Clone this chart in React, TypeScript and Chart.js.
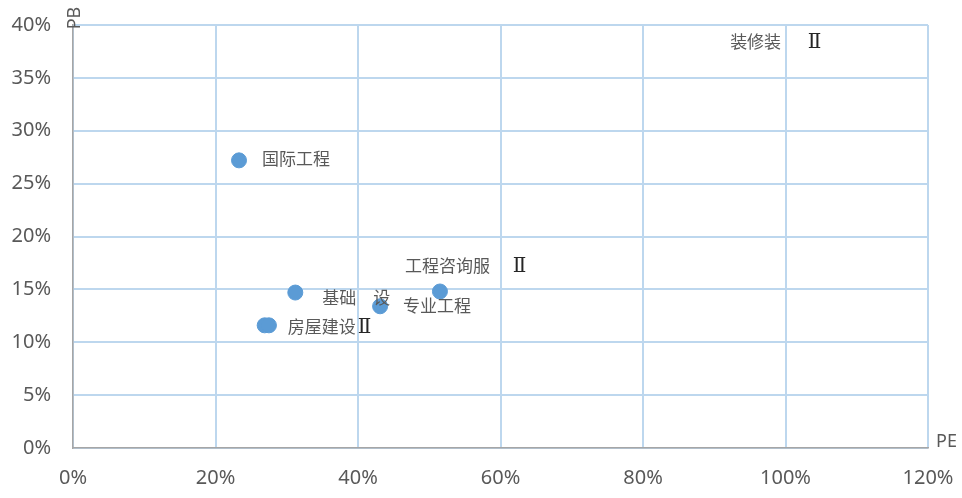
import React, { useEffect, useRef } from "react";
import { Chart, registerables } from "chart.js";
Chart.register(...registerables);

// PE (x) and PB (y) per industry point
const names = ["国际工程", "基础建设Ⅱ", "工程咨询服务Ⅱ", "专业工程", "房屋建设Ⅱ", "房屋建设Ⅱ", "装修装饰Ⅱ"];
const peValues = [0.233, 0.312, 0.515, 0.431, 0.269, 0.275, 0.89];
const pbValues = [0.272, 0.147, 0.148, 0.134, 0.116, 0.116, 0.46];
// visible label text as rendered in the reference (some glyphs hidden)
const labelText = ["国际工程", "基础　设", "工程咨询服　 Ⅱ", "专业工程", "房屋建设Ⅱ", "", "装修装　  Ⅱ"];
const xTicks = [0, 0.2, 0.4, 0.6, 0.8, 1.0, 1.2];
const yTicks = [0, 0.05, 0.1, 0.15, 0.2, 0.25, 0.3, 0.35, 0.4];

// label offsets in px (style)
const labelDx = [23, 27, -35, 23, 23, 0, 23];
const labelDy = [-2, 5, -26, -1, 1, 0, 0];

const GRID = "#BDD7EE";
const TEXT = "#595959";

const labelPlugin = {
  id: "labels",
  afterDatasetsDraw(chart: any) {
    const { ctx, chartArea } = chart;
    const meta = chart.getDatasetMeta(0);
    ctx.save();
    ctx.textBaseline = "middle";
    ctx.textAlign = "left";
    meta.data.forEach((pt: any, i: number) => {
      const txt = labelText[i];
      if (!txt) return;
      let x = pt.x + labelDx[i];
      let y = pt.y + labelDy[i];
      if (y < chartArea.top + 17) y = chartArea.top + 17;
      if (x > chartArea.right - 120) x = Math.min(x, chartArea.right - 195);
      const parts = txt.split("Ⅱ");
      ctx.font = '17px "Noto Sans CJK SC", "Noto Sans", sans-serif';
      ctx.fillStyle = TEXT;
      ctx.fillText(parts[0], x, y);
      if (parts.length > 1) {
        const w = ctx.measureText(parts[0]).width;
        ctx.font = '20px "DejaVu Serif", serif';
        ctx.fillStyle = "#262626";
        ctx.fillText("Ⅱ", x + w + 2, y + 1);
      }
    });
    // axis titles
    ctx.fillStyle = TEXT;
    ctx.font = '18px "Noto Sans", sans-serif';
    ctx.textAlign = "left";
    ctx.textBaseline = "middle";
    ctx.fillText("PE", chartArea.right + 8, chartArea.bottom - 6);
    ctx.translate(chartArea.left + 2, chartArea.top - 7);
    ctx.rotate(-Math.PI / 2);
    ctx.textAlign = "center";
    ctx.fillText("PB", 0, 0);
    ctx.restore();
  },
};

export default function App() {
  const ref = useRef<HTMLCanvasElement>(null);
  useEffect(() => {
    if (!ref.current) return;
    const chart = new Chart(ref.current, {
      type: "scatter",
      data: {
        datasets: [
          {
            data: peValues.map((v, i) => ({ x: v, y: pbValues[i] })),
            backgroundColor: "#5B9BD5",
            borderColor: "#5B9BD5",
            pointRadius: 7.5,
            pointHoverRadius: 7.5,
          },
        ],
      },
      options: {
        responsive: false,
        animation: false,
        events: [],
        layout: { padding: { top: 25, right: 34, left: 0, bottom: 0 } },
        plugins: { legend: { display: false }, tooltip: { enabled: false } },
        scales: {
          x: {
            type: "linear",
            min: 0,
            max: 1.2,
            afterBuildTicks: (s: any) => { s.ticks = xTicks.map((v) => ({ value: v })); },
            afterFit: (s: any) => { s.height = 50; s.paddingLeft = 0; s.paddingRight = 0; },
            ticks: {
              color: TEXT,
              font: { size: 20, family: '"Noto Sans", sans-serif' },
              padding: 18,
              maxRotation: 0,
              callback: (v: any) => Math.round(v * 100) + "%",
            },
            grid: { color: GRID, lineWidth: 2, drawTicks: false },
            border: { color: "#A6A6A6", width: 1.5 },
          },
          y: {
            type: "linear",
            min: 0,
            max: 0.4,
            afterBuildTicks: (s: any) => { s.ticks = yTicks.map((v) => ({ value: v })); },
            afterFit: (s: any) => { s.width = 73; s.paddingTop = 0; s.paddingBottom = 0; },
            ticks: {
              color: TEXT,
              font: { size: 20, family: '"Noto Sans", sans-serif' },
              padding: 22,
              callback: (v: any) => Math.round(v * 100) + "%",
            },
            grid: { color: GRID, lineWidth: 2, drawTicks: false },
            border: { color: "#A6A6A6", width: 1.5 },
          },
        },
      },
      plugins: [labelPlugin],
    } as any);
    return () => chart.destroy();
  }, []);
  return (
    <div style={{ position: "absolute", left: 0, top: 0, width: 962, height: 498, background: "#fff" }}>
      <canvas ref={ref} width={962} height={498} style={{ display: "block" }} />
    </div>
  );
}
